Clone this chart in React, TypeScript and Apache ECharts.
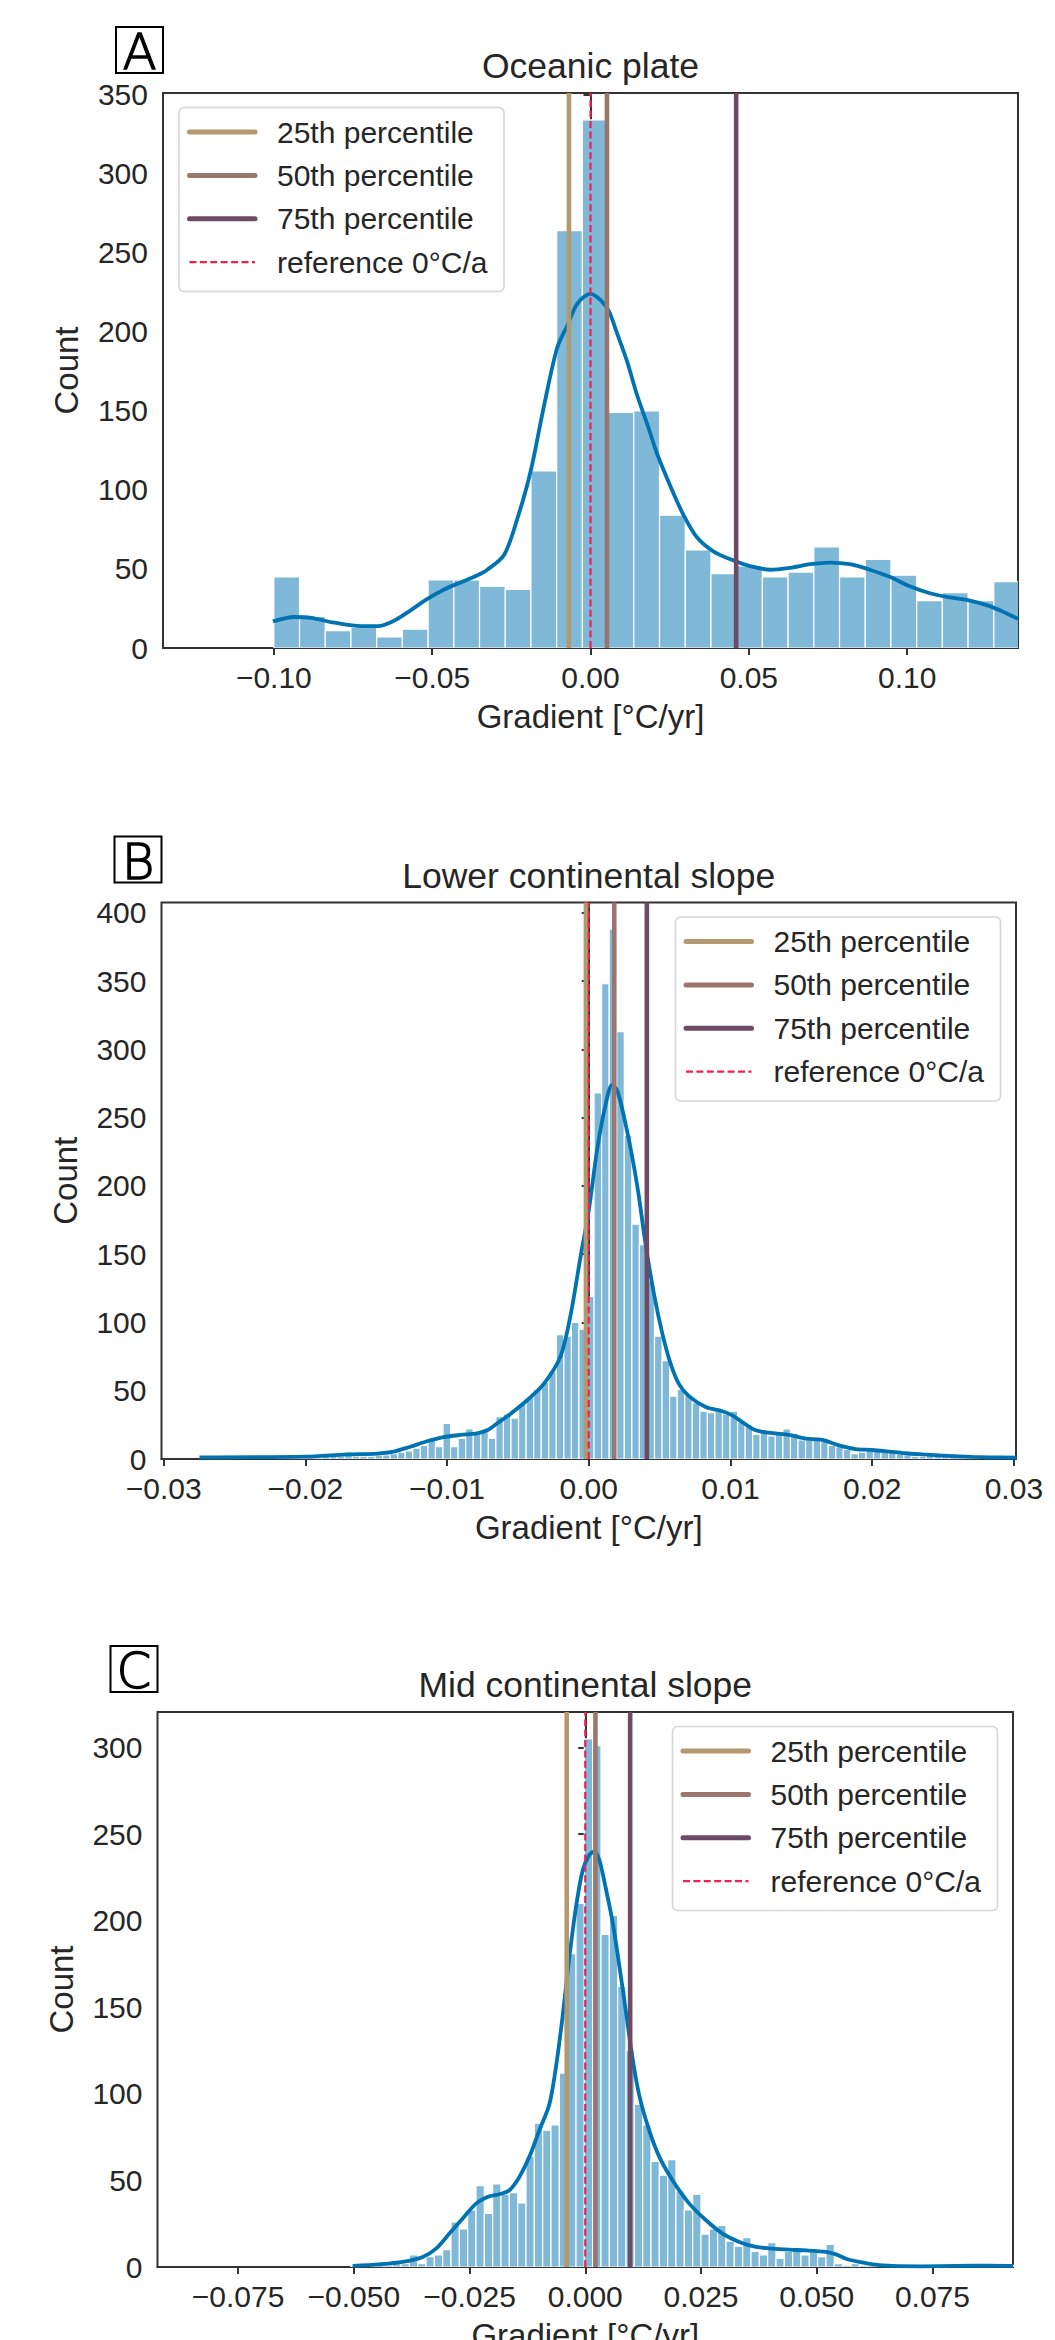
import React, { useEffect, useRef } from 'react';
import * as echarts from 'echarts';

// ---------------- Data ----------------
// Panel A: Oceanic plate
const A_BIN_START = -0.1;
const A_BIN_WIDTH = 0.00812;
const A_COUNTS = [45, 20, 11, 13, 7, 12, 43, 43, 39, 37, 112, 264, 334, 149, 150, 84, 62, 47, 52, 45, 48, 64, 45, 56, 46, 30, 35, 30, 42];
const A_KDE_X = [-0.1003, -0.0935, -0.0882, -0.0809, -0.0725, -0.0672, -0.062, -0.0567, -0.0515, -0.0462, -0.041, -0.0357, -0.0326, -0.0273, -0.0231, -0.0189, -0.0147, -0.0105, -0.0073, -0.0042, 0, 0.0032, 0.0058, 0.0084, 0.0116, 0.0147, 0.0179, 0.021, 0.0252, 0.0294, 0.0336, 0.0389, 0.0452, 0.0504, 0.0567, 0.063, 0.0693, 0.0756, 0.0819, 0.0882, 0.0945, 0.1008, 0.1072, 0.1135, 0.1198, 0.1261, 0.1313, 0.135];
const A_KDE_Y = [16.8, 19.6, 19, 16, 13.8, 13.8, 17.3, 24, 31, 37, 41.5, 46, 49.5, 58.8, 81.8, 111.8, 153, 190, 204, 217.7, 224, 220, 213, 199, 181, 160, 141.7, 123, 102.5, 84, 70, 61, 55.3, 51.8, 49.5, 50.7, 53, 54, 53, 49.5, 45, 39, 34.6, 32, 30, 26.5, 22, 18.4];
const A_PERCENTILES = [-0.0068, 0.0052, 0.046];
const A_X_TICKS = [-0.1, -0.05, 0, 0.05, 0.1];
const A_Y_TICKS = [0, 50, 100, 150, 200, 250, 300, 350];

// Panel B: Lower continental slope
const B_BIN_START = -0.02734;
const B_BIN_WIDTH = 0.000533;
const B_COUNTS = [
  1, 0, 0, 1, 0, 1, 0, 1, 1, 0, 1, 1, 1, 1, 2, 1, 2, 2, 2,
  5, 2, 2, 2, 3, 3, 4, 5, 6, 8, 10, 15, 9,
  26, 9, 15, 22, 20, 20, 15, 31, 33, 30, 40, 45, 51, 56, 64, 91, 90, 100, 95,
  119, 268, 348, 388, 313, 237, 172, 157, 130, 90, 72,
  46, 51, 47, 41, 35, 34, 35, 33, 35, 27, 25, 18, 20, 17, 18, 22, 19, 14, 14, 16, 13, 10, 9, 7, 4, 5, 8, 7, 5, 5, 4, 3, 2, 2, 3, 4, 2, 2, 1, 1,
  1, 0, 1, 0, 1, 0,
];
const B_KDE_X = [-0.02747, -0.02, -0.01706, -0.01494, -0.01377, -0.01259, -0.01141, -0.01024, -0.00906, -0.00788, -0.00717, -0.00647, -0.00553, -0.00435, -0.00317, -0.002, -0.00129, -0.00058, 0, 0.0006, 0.00118, 0.00165, 0.002, 0.0025, 0.003, 0.0035, 0.004, 0.0046, 0.00519, 0.00577, 0.00636, 0.00707, 0.00825, 0.00943, 0.01013, 0.01084, 0.01178, 0.01296, 0.01413, 0.0153, 0.01649, 0.01766, 0.01884, 0.02, 0.0212, 0.02237, 0.02355, 0.02473, 0.0259, 0.02708, 0.02826, 0.0302];
const B_KDE_Y = [1.2, 1.7, 3.4, 4, 5.4, 9, 13, 16, 17.6, 18.8, 21, 26, 33, 43, 55, 75, 105, 148, 182, 227, 259, 274, 270, 250, 225, 195, 158, 121, 92, 70, 55, 46, 38, 35, 32, 27, 21, 19, 17.6, 15, 14, 10, 7.3, 6.6, 5.4, 4.2, 3.4, 2.7, 2, 1.5, 1.2, 1];
const B_PERCENTILES = [-0.0002, 0.0018, 0.0041];
const B_X_TICKS = [-0.03, -0.02, -0.01, 0, 0.01, 0.02, 0.03];
const B_Y_TICKS = [0, 50, 100, 150, 200, 250, 300, 350, 400];

// Panel C: Mid continental slope
const C_BIN_START = -0.0506;
const C_BIN_WIDTH = 0.0018;
const C_COUNTS = [
  1, 0, 1, 1, 1, 2,
  2, 7, 2, 6, 7, 10,
  26, 22, 33, 47, 31, 48, 42, 43, 37, 64, 83, 79, 82,
  112, 181, 210, 305, 301, 192, 203, 162, 125, 94, 82,
  61, 53, 62, 44, 33, 42, 19, 22, 24, 15, 12, 17, 9, 7, 14, 5, 9, 11, 7, 9, 6, 13, 2, 1, 2,
  1, 1, 1, 0, 1, 1, 0, 0, 1, 0, 0, 1, 0, 0, 0, 1, 0, 1, 1,
];
const C_KDE_X = [-0.05024, -0.04447, -0.03944, -0.03512, -0.03223, -0.02935, -0.02647, -0.02359, -0.02071, -0.01855, -0.01639, -0.01423, -0.01207, -0.00991, -0.00775, -0.0063, -0.00488, -0.00343, -0.00199, -0.00056, 0.00089, 0.00197, 0.00305, 0.00449, 0.00592, 0.00736, 0.00881, 0.01025, 0.01168, 0.0138, 0.016, 0.01888, 0.02248, 0.02609, 0.02967, 0.03328, 0.03689, 0.04047, 0.04408, 0.04769, 0.052, 0.05417, 0.05633, 0.0592, 0.06207, 0.0664, 0.0729, 0.0801, 0.0873, 0.0924];
const C_KDE_Y = [0.6, 1.5, 2.9, 5.8, 10.6, 19.3, 28, 36.6, 40.8, 42, 44.3, 52, 63.6, 79, 94, 116, 145, 179, 208, 229, 238, 240, 235, 218, 199, 174, 147, 120, 99, 79, 63.6, 50, 36.6, 27, 19.3, 14.5, 11.6, 10.6, 10, 9.6, 8.7, 7.3, 4.8, 2.9, 1.5, 0.6, 0.4, 0.6, 0.8, 0.6];
const C_PERCENTILES = [-0.004, 0.0022, 0.0097];
const C_X_TICKS = [-0.075, -0.05, -0.025, 0, 0.025, 0.05, 0.075];
const C_Y_TICKS = [0, 50, 100, 150, 200, 250, 300];

const LEGEND_LABELS = ['25th percentile', '50th percentile', '75th percentile', 'reference 0°C/a'];
const X_LABEL = 'Gradient [°C/yr]';
const Y_LABEL = 'Count';

// ---------------- Styles / layout ----------------
const FONT = '"Liberation Sans", Arial, Helvetica, sans-serif';
const TEXT = '#262626';
const SPINE = '#333333';
const BAR_FILL = '#80b8d8';
const KDE_COLOR = '#0173b2';
const P_COLORS = ['#b39a6e', '#9b766e', '#6e4a64'];
const REF_COLOR = '#f0214f';

const PANELS = [
  {
    letter: 'A', title: 'Oceanic plate',
    grid: { left: 163, top: 93, width: 855, height: 555 },
    xMin: -0.135, xMax: 0.135, yMax: 351, dec: 2,
    binStart: A_BIN_START, binWidth: A_BIN_WIDTH, counts: A_COUNTS,
    kdeX: A_KDE_X, kdeY: A_KDE_Y, pct: A_PERCENTILES, xTicks: A_X_TICKS, yTicks: A_Y_TICKS,
    legendLeft: true,
  },
  {
    letter: 'B', title: 'Lower continental slope',
    grid: { left: 161.5, top: 902.5, width: 854.5, height: 556.5 },
    xMin: -0.03015, xMax: 0.03015, yMax: 407.5, dec: 2,
    binStart: B_BIN_START, binWidth: B_BIN_WIDTH, counts: B_COUNTS,
    kdeX: B_KDE_X, kdeY: B_KDE_Y, pct: B_PERCENTILES, xTicks: B_X_TICKS, yTicks: B_Y_TICKS,
    legendLeft: false,
  },
  {
    letter: 'C', title: 'Mid continental slope',
    grid: { left: 157.5, top: 1712, width: 855.5, height: 555 },
    xMin: -0.0924, xMax: 0.0924, yMax: 320.5, dec: 3,
    binStart: C_BIN_START, binWidth: C_BIN_WIDTH, counts: C_COUNTS,
    kdeX: C_KDE_X, kdeY: C_KDE_Y, pct: C_PERCENTILES, xTicks: C_X_TICKS, yTicks: C_Y_TICKS,
    legendLeft: false,
  },
];

const fmt = (d: number) => (v: number) => {
  const s = Math.abs(v) < 1e-12 ? (0).toFixed(d) : Number(v).toFixed(d);
  return s.replace('-', '\u2212');
};

function buildOption() {
  const grids: any[] = [];
  const xAxes: any[] = [];
  const yAxes: any[] = [];
  const series: any[] = [];
  const graphics: any[] = [];

  PANELS.forEach((p, i) => {
    const g = p.grid;
    grids.push({ ...g, show: true, borderColor: SPINE, borderWidth: 2, backgroundColor: 'transparent', containLabel: false });
    xAxes.push({
      gridIndex: i, type: 'value', min: p.xMin, max: p.xMax,
      axisLine: { show: true, lineStyle: { color: SPINE, width: 2 } },
      axisTick: { show: true, inside: false, length: 7, lineStyle: { color: SPINE, width: 2 }, customValues: p.xTicks },
      axisLabel: { customValues: p.xTicks, formatter: fmt(p.dec), fontSize: 30, fontFamily: FONT, color: TEXT, margin: 14, lineHeight: 30 },
      splitLine: { show: false },
    });
    yAxes.push({
      gridIndex: i, type: 'value', min: 0, max: p.yMax,
      axisLine: { show: true, lineStyle: { color: SPINE, width: 2 } },
      axisTick: { show: true, inside: false, length: 7, lineStyle: { color: SPINE, width: 2 }, customValues: p.yTicks },
      axisLabel: { customValues: p.yTicks, fontSize: 30, fontFamily: FONT, color: TEXT, margin: 15, lineHeight: 24 },
      splitLine: { show: false },
    });

    const hist = p.counts
      .map((c, k) => [p.binStart + k * p.binWidth, p.binStart + (k + 1) * p.binWidth, c])
      .filter((d) => d[2] > 0);
    series.push({
      type: 'custom', xAxisIndex: i, yAxisIndex: i, clip: true, z: 1,
      dimensions: ['x0', 'x1', 'count'],
      encode: { x: [0, 1], y: 2 },
      data: hist,
      renderItem: (params: any, api: any) => {
        const p0 = api.coord([api.value(0), api.value(2)]);
        const p1 = api.coord([api.value(1), 0]);
        return {
          type: 'rect',
          shape: { x: p0[0], y: p0[1], width: p1[0] - p0[0], height: p1[1] - p0[1] },
          style: { fill: BAR_FILL, stroke: '#ffffff', lineWidth: 1.2 },
        };
      },
    });
    series.push({
      type: 'line', xAxisIndex: i, yAxisIndex: i, z: 3, smooth: 0.3, showSymbol: false, symbol: 'none',
      data: p.kdeX.map((x, k) => [x, p.kdeY[k]]),
      lineStyle: { color: KDE_COLOR, width: 3.8 },
    });
    p.pct.forEach((v, k) => {
      series.push({
        type: 'line', xAxisIndex: i, yAxisIndex: i, z: 4, showSymbol: false, symbol: 'none',
        data: [[v, 0], [v, p.yMax]],
        lineStyle: { color: P_COLORS[k], width: 4.6 },
      });
    });
    series.push({
      type: 'line', xAxisIndex: i, yAxisIndex: i, z: 5, showSymbol: false, symbol: 'none',
      data: [[0, 0], [0, p.yMax]],
      lineStyle: { color: REF_COLOR, width: 2.2, type: [7, 3.4] },
    });

    // Panel letter box
    const bw = 47, bh = 46;
    const bx = g.left - bw;
    const by = g.top - 66;
    graphics.push({ type: 'rect', z: 100, shape: { x: bx, y: by, width: bw, height: bh }, style: { fill: '#ffffff', stroke: '#000000', lineWidth: 2 } });
    graphics.push({ type: 'text', z: 101, x: bx + bw / 2, y: by + bh / 2 + 2, style: { text: p.letter, fontSize: 50, fontFamily: '"DejaVu Sans ExtraLight", "DejaVu Sans", sans-serif', fontWeight: 200, fill: '#000000', stroke: '#000000', lineWidth: 1.3, align: 'center', verticalAlign: 'middle' } });
    // Title
    graphics.push({ type: 'text', z: 100, x: g.left + g.width / 2, y: g.top - 27, style: { text: p.title, fontSize: 35.5, fontFamily: FONT, fill: TEXT, align: 'center', verticalAlign: 'middle' } });
    // Axis titles
    graphics.push({ type: 'text', z: 100, x: g.left + g.width / 2, y: g.top + g.height + 68.5, style: { text: X_LABEL, fontSize: 33, fontFamily: FONT, fill: TEXT, align: 'center', verticalAlign: 'middle' } });
    graphics.push({ type: 'text', z: 100, x: g.left - 96.5, y: g.top + g.height / 2, rotation: Math.PI / 2, style: { text: Y_LABEL, fontSize: 33, fontFamily: FONT, fill: TEXT, align: 'center', verticalAlign: 'middle' } });

    // Legend
    const lw = 325, lh = 184;
    const lx = p.legendLeft ? g.left + 16 : g.left + g.width - 15.5 - lw;
    const ly = g.top + 14.5;
    graphics.push({ type: 'rect', z: 100, shape: { x: lx, y: ly, width: lw, height: lh, r: 5 }, style: { fill: 'rgba(255,255,255,0.85)', stroke: '#d6d6d6', lineWidth: 1.6 } });
    LEGEND_LABELS.forEach((lab, k) => {
      const ry = ly + 24.5 + k * 43.4;
      const isRef = k === 3;
      graphics.push({
        type: 'line', z: 101,
        shape: { x1: lx + 10.5, y1: ry, x2: lx + 76, y2: ry },
        style: isRef
          ? { stroke: REF_COLOR, lineWidth: 2.2, lineDash: [7, 3.4] }
          : { stroke: P_COLORS[k], lineWidth: 5, lineCap: 'round' },
      });
      graphics.push({ type: 'text', z: 101, x: lx + 98, y: ry, style: { text: lab, fontSize: 30, fontFamily: FONT, fill: TEXT, align: 'left', verticalAlign: 'middle' } });
    });
  });

  return {
    animation: false,
    backgroundColor: '#ffffff',
    grid: grids,
    xAxis: xAxes,
    yAxis: yAxes,
    series,
    graphic: graphics,
  };
}

export default function App() {
  const ref = useRef<HTMLDivElement>(null);
  useEffect(() => {
    document.body.style.margin = '0';
    const chart = echarts.init(ref.current as HTMLDivElement, null, { renderer: 'svg', width: 1055, height: 2340 });
    chart.setOption(buildOption() as any);
    return () => chart.dispose();
  }, []);
  return <div ref={ref} style={{ width: 1055, height: 2340, position: 'absolute', left: 0, top: 0 }} />;
}
